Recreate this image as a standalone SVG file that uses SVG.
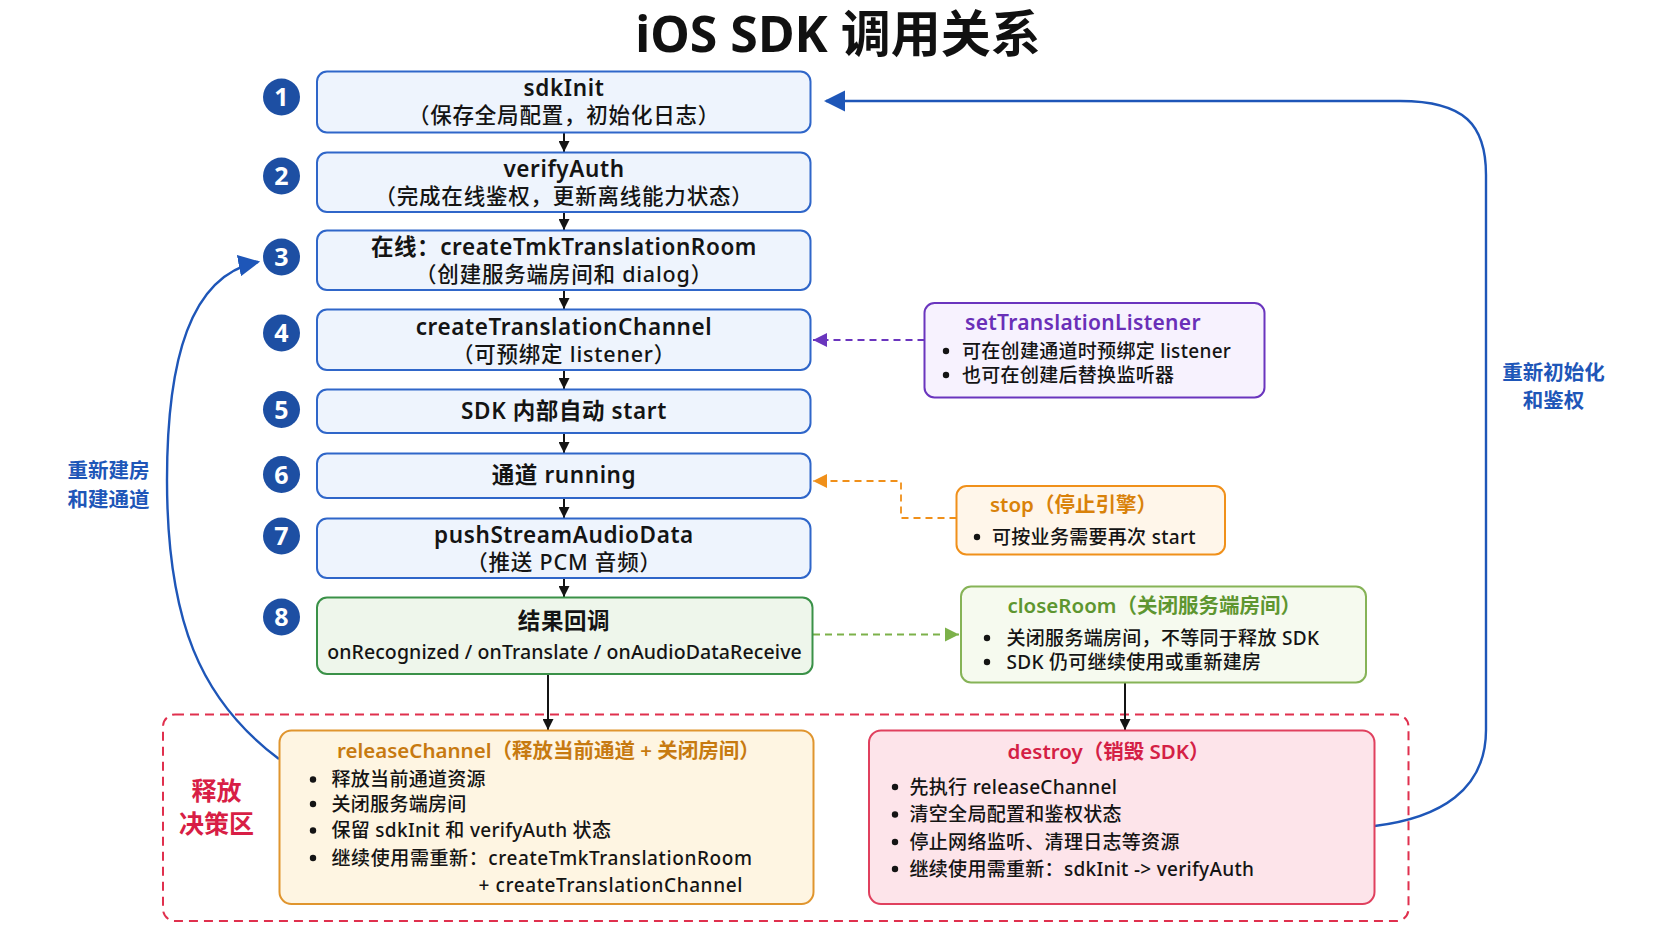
<svg xmlns="http://www.w3.org/2000/svg" width="1672" height="941" viewBox="0 0 1672 941">
<defs>
<style>
text{font-family:'Noto Sans','Noto Sans CJK SC',sans-serif;}
.main{fill:#EEF4FD;stroke:#2F66C9;stroke-width:2;}
.green{fill:#EEF6EB;stroke:#3A9148;stroke-width:2;}
.numc{fill:#1D4FA3;}
.num{font-size:25px;font-weight:700;fill:#fff;text-anchor:middle;}
.h{font-size:22.5px;font-weight:600;fill:#141414;text-anchor:middle;letter-spacing:0.6px;}
.s{font-size:21.5px;font-weight:500;fill:#141414;text-anchor:middle;letter-spacing:0.8px;}
.b{font-size:19px;font-weight:500;fill:#141414;letter-spacing:0.3px;}
.bl{fill:#141414;}
.arrow{stroke:#141414;stroke-width:2;fill:none;}
.blue{stroke:#1E56B8;stroke-width:2.4;fill:none;}
.lbl{font-size:20.5px;font-weight:600;fill:#1E56B8;text-anchor:middle;}
</style>
<marker id="au" viewBox="0 0 10 10" refX="10" refY="5" markerWidth="11" markerHeight="11" orient="auto" markerUnits="userSpaceOnUse"><path d="M0,0 L10,5 L0,10 z" fill="#141414"/></marker>
<marker id="ablue" viewBox="0 0 10 10" refX="9" refY="5" markerWidth="9" markerHeight="9" orient="auto" markerUnits="strokeWidth"><path d="M0,0 L10,5 L0,10 z" fill="#1E56B8"/></marker>
<marker id="apur" viewBox="0 0 10 10" refX="10" refY="5" markerWidth="8" markerHeight="8" orient="auto" markerUnits="strokeWidth"><path d="M0,0 L10,5 L0,10 z" fill="#6A35BE"/></marker>
<marker id="aor" viewBox="0 0 10 10" refX="10" refY="5" markerWidth="8" markerHeight="8" orient="auto" markerUnits="strokeWidth"><path d="M0,0 L10,5 L0,10 z" fill="#F0901A"/></marker>
<marker id="agr" viewBox="0 0 10 10" refX="10" refY="5" markerWidth="8" markerHeight="8" orient="auto" markerUnits="strokeWidth"><path d="M0,0 L10,5 L0,10 z" fill="#7CB14A"/></marker>
</defs>
<rect width="1672" height="941" fill="#FFFFFF"/>

<text x="838" y="52" font-size="50" font-weight="700" fill="#111" text-anchor="middle">iOS SDK 调用关系</text>

<!-- release zone -->
<g id="release-zone">
<rect x="163" y="714.5" width="1245.5" height="206.5" rx="12" fill="none" stroke="#E0304E" stroke-width="2" stroke-dasharray="9 6"/>
<text x="216.5" y="800" font-size="25" font-weight="700" fill="#D81E45" text-anchor="middle">释放</text>
<text x="216.5" y="833" font-size="25" font-weight="700" fill="#D81E45" text-anchor="middle">决策区</text>
</g>

<!-- connectors -->
<g id="connectors">
<line class="arrow" x1="564" y1="132" x2="564" y2="152" marker-end="url(#au)"/>
<line class="arrow" x1="564" y1="212" x2="564" y2="230" marker-end="url(#au)"/>
<line class="arrow" x1="564" y1="290" x2="564" y2="309" marker-end="url(#au)"/>
<line class="arrow" x1="564" y1="370" x2="564" y2="389" marker-end="url(#au)"/>
<line class="arrow" x1="564" y1="433" x2="564" y2="453" marker-end="url(#au)"/>
<line class="arrow" x1="564" y1="498" x2="564" y2="518" marker-end="url(#au)"/>
<line class="arrow" x1="564" y1="578" x2="564" y2="597" marker-end="url(#au)"/>
<line class="arrow" x1="548" y1="674" x2="548" y2="730" marker-end="url(#au)"/>
<line class="arrow" x1="1125" y1="682" x2="1125" y2="730" marker-end="url(#au)"/>
<line x1="924.5" y1="340" x2="813" y2="340" stroke="#6A35BE" stroke-width="1.8" stroke-dasharray="7 5" marker-end="url(#apur)"/>
<path d="M956.5,518 L901,518 L901,481 L813,481" fill="none" stroke="#F0901A" stroke-width="1.8" stroke-dasharray="7 5" marker-end="url(#aor)"/>
<line x1="813" y1="634.5" x2="959" y2="634.5" stroke="#7CB14A" stroke-width="1.8" stroke-dasharray="7 5" marker-end="url(#agr)"/>
<path class="blue" d="M1374.5,826 C1440,818 1486,790 1486,730 L1486,175 C1486,125 1465,101 1400,101 L826,101" marker-end="url(#ablue)"/>
<path class="blue" d="M279,759 C200,700 167,620 167,480 C167,360 190,275 258,262" marker-end="url(#ablue)"/>
</g>

<g id="label-rebuild">
<text class="lbl" x="108.5" y="478">重新建房</text>
<text class="lbl" x="108.5" y="507">和建通道</text>
</g>
<g id="label-reinit">
<text class="lbl" x="1553.5" y="380">重新初始化</text>
<text class="lbl" x="1553.5" y="408">和鉴权</text>
</g>

<!-- numbered circles -->
<g id="n1"><circle class="numc" cx="281.5" cy="97" r="18.5"/><text class="num" x="281.5" y="106">1</text></g>
<g id="n2"><circle class="numc" cx="281.5" cy="176" r="18.5"/><text class="num" x="281.5" y="185">2</text></g>
<g id="n3"><circle class="numc" cx="281.5" cy="257" r="18.5"/><text class="num" x="281.5" y="266">3</text></g>
<g id="n4"><circle class="numc" cx="281.5" cy="333" r="18.5"/><text class="num" x="281.5" y="342">4</text></g>
<g id="n5"><circle class="numc" cx="281.5" cy="409.5" r="18.5"/><text class="num" x="281.5" y="418.5">5</text></g>
<g id="n6"><circle class="numc" cx="281.5" cy="474.5" r="18.5"/><text class="num" x="281.5" y="483.5">6</text></g>
<g id="n7"><circle class="numc" cx="281.5" cy="536" r="18.5"/><text class="num" x="281.5" y="545">7</text></g>
<g id="n8"><circle class="numc" cx="281.5" cy="617" r="18.5"/><text class="num" x="281.5" y="626">8</text></g>

<!-- main boxes -->
<g id="sdkInit"><rect class="main" x="317" y="71.5" width="493.5" height="61" rx="10"/>
<text class="h" x="564" y="96">sdkInit</text><text class="s" x="564" y="123">（保存全局配置，初始化日志）</text></g>
<g id="verifyAuth"><rect class="main" x="317" y="152.5" width="493.5" height="59.5" rx="10"/>
<text class="h" x="564" y="177">verifyAuth</text><text class="s" x="564" y="204">（完成在线鉴权，更新离线能力状态）</text></g>
<g id="createRoom"><rect class="main" x="317" y="230.5" width="493.5" height="59.5" rx="10"/>
<text class="h" x="564" y="255">在线：createTmkTranslationRoom</text><text class="s" x="564" y="282">（创建服务端房间和 dialog）</text></g>
<g id="createChannel"><rect class="main" x="317" y="309.5" width="493.5" height="60.5" rx="10"/>
<text class="h" x="564" y="335">createTranslationChannel</text><text class="s" x="564" y="362">（可预绑定 listener）</text></g>
<g id="start"><rect class="main" x="317" y="389.5" width="493.5" height="43.5" rx="10"/>
<text class="h" x="564" y="419">SDK 内部自动 start</text></g>
<g id="running"><rect class="main" x="317" y="453.5" width="493.5" height="44.5" rx="10"/>
<text class="h" x="564" y="483">通道 running</text></g>
<g id="pushAudio"><rect class="main" x="317" y="518.5" width="493.5" height="59.5" rx="10"/>
<text class="h" x="564" y="543">pushStreamAudioData</text><text class="s" x="564" y="570">（推送 PCM 音频）</text></g>
<g id="callbacks"><rect class="green" x="317" y="597.5" width="495.5" height="76.5" rx="10"/>
<text class="h" x="564" y="629">结果回调</text><text class="s" x="564.5" y="659" style="font-size:19.5px;letter-spacing:0.1px">onRecognized / onTranslate / onAudioDataReceive</text></g>

<!-- side boxes -->
<g id="setTranslationListener"><rect x="924.5" y="303" width="340" height="94.5" rx="10" fill="#F7F2FE" stroke="#6A35BE" stroke-width="2"/>
<text x="965" y="330" font-size="21" font-weight="600" fill="#6A2FB8" letter-spacing="0.3">setTranslationListener</text>
<circle class="bl" cx="946" cy="351" r="3.2"/><text class="b" x="962" y="357.5">可在创建通道时预绑定 listener</text>
<circle class="bl" cx="946" cy="375" r="3.2"/><text class="b" x="962" y="381.5">也可在创建后替换监听器</text></g>

<g id="stop"><rect x="956.5" y="486" width="268.5" height="68.5" rx="10" fill="#FFF6EA" stroke="#F0901A" stroke-width="2"/>
<text x="990" y="512" font-size="20.5" font-weight="600" fill="#D9820A">stop（停止引擎）</text>
<circle class="bl" cx="977" cy="537" r="3.2"/><text class="b" x="992" y="543.5">可按业务需要再次 start</text></g>

<g id="closeRoom"><rect x="961" y="586.5" width="405" height="96" rx="10" fill="#F6FAEF" stroke="#86B357" stroke-width="2"/>
<text x="1007.5" y="613" font-size="20.5" font-weight="600" fill="#5E9630">closeRoom（关闭服务端房间）</text>
<circle class="bl" cx="987" cy="638" r="3.2"/><text class="b" x="1006.5" y="644.5">关闭服务端房间，不等同于释放 SDK</text>
<circle class="bl" cx="987" cy="662" r="3.2"/><text class="b" x="1006.5" y="668.5">SDK 仍可继续使用或重新建房</text></g>

<!-- release boxes -->
<g id="releaseChannel"><rect x="279.5" y="730.5" width="534" height="173.5" rx="12" fill="#FEF5E2" stroke="#E0952E" stroke-width="2"/>
<text x="337" y="758" font-size="20.5" font-weight="600" fill="#C77A10">releaseChannel（释放当前通道 + 关闭房间）</text>
<circle class="bl" cx="313" cy="779.5" r="3.2"/><text class="b" x="331.5" y="786">释放当前通道资源</text>
<circle class="bl" cx="313" cy="804" r="3.2"/><text class="b" x="331.5" y="810.5">关闭服务端房间</text>
<circle class="bl" cx="313" cy="830.5" r="3.2"/><text class="b" x="331.5" y="837">保留 sdkInit 和 verifyAuth 状态</text>
<circle class="bl" cx="313" cy="858" r="3.2"/><text class="b" x="331.5" y="864.5" style="letter-spacing:0.6px">继续使用需重新：createTmkTranslationRoom</text>
<text class="b" x="478.5" y="891.5" style="letter-spacing:0.6px">+ createTranslationChannel</text></g>

<g id="destroy"><rect x="869" y="730.5" width="505.5" height="173.5" rx="12" fill="#FDE4EA" stroke="#E0405E" stroke-width="2"/>
<text x="1007.5" y="759" font-size="20.5" font-weight="600" fill="#D42045">destroy（销毁 SDK）</text>
<circle class="bl" cx="895" cy="787" r="3.2"/><text class="b" x="909.5" y="793.5">先执行 releaseChannel</text>
<circle class="bl" cx="895" cy="814.5" r="3.2"/><text class="b" x="909.5" y="821">清空全局配置和鉴权状态</text>
<circle class="bl" cx="895" cy="842" r="3.2"/><text class="b" x="909.5" y="848.5">停止网络监听、清理日志等资源</text>
<circle class="bl" cx="895" cy="869" r="3.2"/><text class="b" x="909.5" y="875.5">继续使用需重新：sdkInit -&gt; verifyAuth</text></g>
</svg>
